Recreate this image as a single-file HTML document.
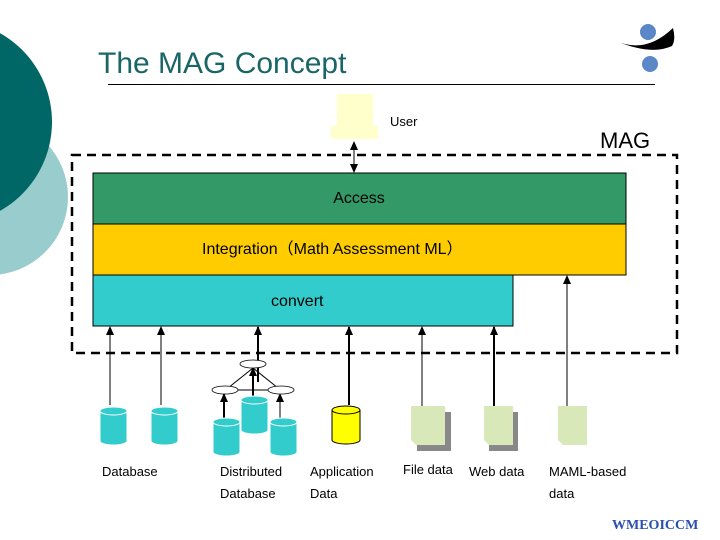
<!DOCTYPE html>
<html><head><meta charset="utf-8"><style>body{margin:0}svg{display:block}</style></head><body>
<svg width="720" height="540" xmlns="http://www.w3.org/2000/svg" font-family="Liberation Sans, sans-serif">
<defs>
<marker id="a" markerWidth="9" markerHeight="8" refX="8" refY="4" orient="auto-start-reverse" markerUnits="userSpaceOnUse"><path d="M0,0 L9,4 L0,8Z" fill="#000"/></marker>
</defs>
<rect width="720" height="540" fill="#fff"/>
<circle cx="-10" cy="197" r="78" fill="#99cccc"/>
<circle cx="-50" cy="122" r="102" fill="#006666"/>
<text x="98" y="73" font-size="30" fill="#1a6666">The MAG Concept</text>
<line x1="108" y1="84.5" x2="655" y2="84.5" stroke="#000" stroke-width="1"/>
<!-- logo -->
<circle cx="648" cy="32" r="8" fill="#5b87c8"/>
<path d="M614,40 Q645,55 673,28 Q676,40 672,46 Q650,56 614,40Z" fill="#000"/>
<circle cx="650" cy="64" r="8" fill="#5b87c8"/>
<text x="600" y="148" font-size="22" fill="#000">MAG</text>
<!-- user -->
<rect x="337" y="94" width="36" height="32" fill="#ffffcc"/>
<rect x="331" y="126" width="47" height="13" fill="#ffffcc"/>
<text x="390" y="126" font-size="13">User</text>
<line x1="354" y1="142" x2="354" y2="172" stroke="#000" marker-start="url(#a)" marker-end="url(#a)"/>
<rect x="72" y="155" width="605" height="198" fill="none" stroke="#000" stroke-width="2.5" stroke-dasharray="9,6"/>
<rect x="93" y="173" width="533" height="51" fill="#339966" stroke="#000"/>
<rect x="93" y="224" width="533" height="51" fill="#ffcc00" stroke="#000"/>
<rect x="93" y="275" width="420" height="51" fill="#33cccc" stroke="#000"/>
<text x="359" y="203" font-size="16" text-anchor="middle">Access</text>
<text x="202" y="254" font-size="16">Integration（Math Assessment ML）</text>
<text x="271" y="306" font-size="16">convert</text>
<g stroke="#000">
<line x1="110" y1="405" x2="110" y2="327" marker-end="url(#a)"/>
<line x1="161" y1="405" x2="161" y2="327" marker-end="url(#a)"/>
<line x1="258" y1="382" x2="258" y2="327" stroke-width="2" marker-end="url(#a)"/>
<line x1="349" y1="405" x2="349" y2="327" stroke-width="2" marker-end="url(#a)"/>
<line x1="422" y1="406" x2="422" y2="327" marker-end="url(#a)"/>
<line x1="494" y1="406" x2="494" y2="327" stroke-width="2" marker-end="url(#a)"/>
<line x1="567" y1="406" x2="567" y2="276" marker-end="url(#a)"/>
<line x1="253" y1="368" x2="228" y2="388"/><line x1="253" y1="368" x2="278" y2="388"/>
<line x1="235" y1="390" x2="270" y2="390"/>
<line x1="224" y1="418" x2="224" y2="394" stroke-width="2" marker-end="url(#a)"/>
<line x1="253" y1="396" x2="253" y2="368" stroke-width="2" marker-end="url(#a)"/>
<line x1="280" y1="418" x2="280" y2="394" marker-end="url(#a)"/>
</g>
<g fill="#fff" stroke="#000" stroke-width="0.8">
<ellipse cx="253" cy="364" rx="13" ry="4"/><ellipse cx="225" cy="390" rx="13" ry="4"/><ellipse cx="281" cy="390" rx="13" ry="4"/>
</g>
<g fill="#33cccc" stroke="#fff" stroke-width="1">
<path d="M100,411 v30 a13.5,4 0 0 0 27,0 v-30 a13.5,4 0 0 0 -27,0 a13.5,4 0 0 0 27,0"/>
<path d="M151,411 v30 a13.5,4 0 0 0 27,0 v-30 a13.5,4 0 0 0 -27,0 a13.5,4 0 0 0 27,0"/>
<path d="M213,422 v30 a13.5,4 0 0 0 27,0 v-30 a13.5,4 0 0 0 -27,0 a13.5,4 0 0 0 27,0"/>
<path d="M241,400 v30 a13.5,4 0 0 0 27,0 v-30 a13.5,4 0 0 0 -27,0 a13.5,4 0 0 0 27,0"/>
<path d="M270,422 v30 a13.5,4 0 0 0 27,0 v-30 a13.5,4 0 0 0 -27,0 a13.5,4 0 0 0 27,0"/>
</g>
<path d="M332,410 v30 a14,4 0 0 0 28,0 v-30 a14,4 0 0 0 -28,0 a14,4 0 0 0 28,0" fill="#ffff00" stroke="#000"/>
<rect x="417" y="412" width="34" height="39" fill="#888"/>
<path d="M411,406 h34 v39 h-29 l-5,-5z" fill="#d9e8b8"/>
<rect x="489" y="412" width="29" height="39" fill="#888"/>
<path d="M484,406 h29 v39 h-24 l-5,-5z" fill="#d9e8b8"/>
<path d="M558,406 h29 v39 h-24 l-5,-5z" fill="#d9e8b8"/>
<g font-size="13">
<text x="102" y="476">Database</text>
<text x="220" y="476">Distributed</text><text x="220" y="498">Database</text>
<text x="310" y="476">Application</text><text x="310" y="498">Data</text>
<text x="403" y="474">File data</text><text x="469" y="476">Web data</text>
<text x="549" y="476">MAML-based</text><text x="549" y="498">data</text>
</g>
<text x="612" y="529" font-size="14" font-weight="bold" fill="#2a4fb0" font-family="Liberation Serif, serif">WMEOICCM</text>
</svg>
</body></html>
